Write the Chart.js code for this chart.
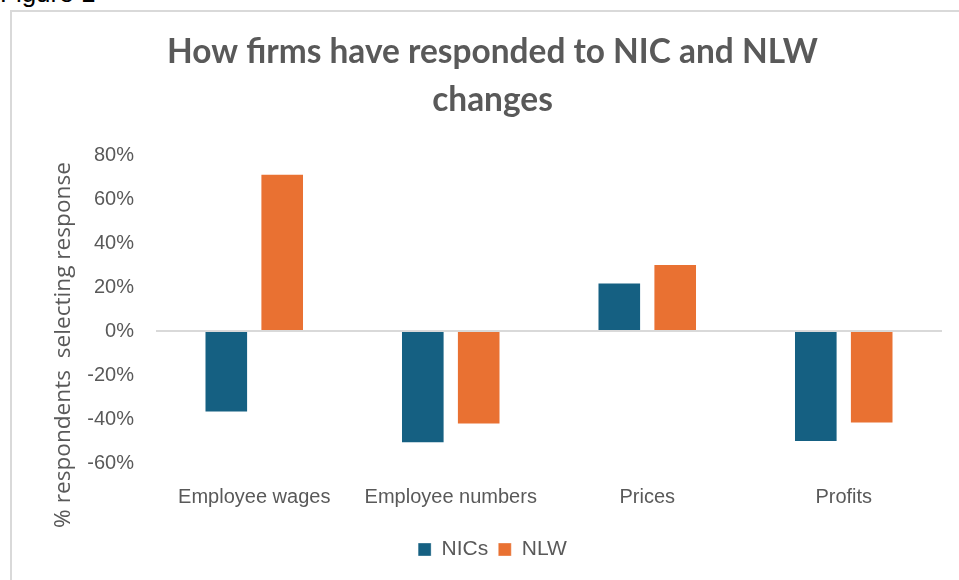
<!DOCTYPE html>
<html><head><meta charset="utf-8">
<script src="https://cdn.jsdelivr.net/npm/chart.js@4.4.1/dist/chart.umd.min.js"></script>
<style>
html,body{margin:0;padding:0;background:#fff;overflow:hidden;width:959px;height:580px;}
#fig{position:absolute;left:0;top:-20px;font:26px "Liberation Sans",Arial,sans-serif;line-height:26px;color:#000;white-space:nowrap;}
#box{position:absolute;left:10px;top:10px;width:990px;height:600px;border-left:2px solid #d9d9d9;border-top:2px solid #d9d9d9;box-sizing:border-box;}
#c{position:absolute;left:0;top:0;}
</style></head><body>
<div id="fig">Figure 1</div>
<div id="box"></div>
<canvas id="c" width="975" height="580"></canvas>
<script>
const categories = ['Employee wages', 'Employee numbers', 'Prices', 'Profits'];
const nicsValues = [-37, -51, 22, -50.5];
const nlwValues = [71.5, -42.5, 30.5, -42];
const seriesNames = ['NICs', 'NLW'];
const yTicks = [-60, -40, -20, 0, 20, 40, 60, 80];
const titleLines = ['How firms have responded to NIC and NLW', 'changes'];
const yAxisTitle = '% respondents  selecting response';

const grey = '#595959';
const mctx = document.createElement('canvas').getContext('2d');
function fitSize(text, weight, family, target) {
  mctx.font = weight + ' 40px ' + family;
  return 40 * target / mctx.measureText(text).width;
}
const titleSize = fitSize(titleLines[0], 'bold', 'Lato', 651);
const yTitleSize = fitSize(yAxisTitle, 'normal', '"Open Sans"', 366);

const yTitlePlugin = {
  id: 'yTitle',
  afterDraw(chart) {
    const c = chart.ctx;
    c.save();
    c.translate(64, 345);
    c.rotate(-Math.PI / 2);
    c.font = yTitleSize + 'px "Open Sans"';
    c.fillStyle = grey;
    c.textAlign = 'center';
    c.textBaseline = 'middle';
    c.fillText(yAxisTitle, 0, 0);
    c.restore();
  }
};

new Chart(document.getElementById('c'), {
  type: 'bar',
  data: {
    labels: categories,
    datasets: [
      { label: seriesNames[0], data: nicsValues, backgroundColor: '#156082', borderColor: 'rgba(255,255,255,0.35)', borderWidth: 1 },
      { label: seriesNames[1], data: nlwValues, backgroundColor: '#E97132', borderColor: 'rgba(255,255,255,0.35)', borderWidth: 1 }
    ]
  },
  options: {
    responsive: false,
    animation: false,
    devicePixelRatio: 1,
    categoryPercentage: 0.569,
    barPercentage: 0.78,
    layout: { padding: { left: 10, right: 0, top: 0, bottom: 10 } },
    plugins: {
      title: {
        display: true,
        text: titleLines,
        color: grey,
        font: { family: 'Lato', weight: 'bold', size: titleSize, lineHeight: '48px' },
        padding: { top: 28, bottom: 31 }
      },
      legend: {
        position: 'bottom',
        labels: {
          color: grey,
          font: { family: '"Liberation Sans"', size: 21 },
          boxWidth: 13, boxHeight: 13, padding: 10
        }
      },
      tooltip: { enabled: false }
    },
    scales: {
      x: {
        grid: { display: false, drawTicks: false },
        border: { display: false },
        ticks: { color: grey, font: { family: '"Liberation Sans"', size: 20 }, padding: 22, maxRotation: 0 },
        afterFit(s) { s.height = 66; }
      },
      y: {
        min: yTicks[0],
        max: yTicks[yTicks.length - 1],
        afterBuildTicks(s) { s.ticks = yTicks.map(v => ({ value: v })); },
        grid: {
          drawTicks: false,
          color: c => (c.tick && c.tick.value === 0) ? '#d9d9d9' : 'rgba(0,0,0,0)',
          lineWidth: 2
        },
        border: { display: false },
        ticks: { color: grey, font: { family: '"Liberation Sans"', size: 20 }, padding: 22, callback: v => v + '%' },
        afterFit(s) { s.width = 146; }
      },
      yRight: {
        position: 'right',
        display: true,
        grid: { display: false, drawTicks: false },
        border: { display: false },
        ticks: { display: false },
        afterFit(s) { s.width = 33; }
      }
    }
  },
  plugins: [yTitlePlugin]
});
</script>
</body></html>
